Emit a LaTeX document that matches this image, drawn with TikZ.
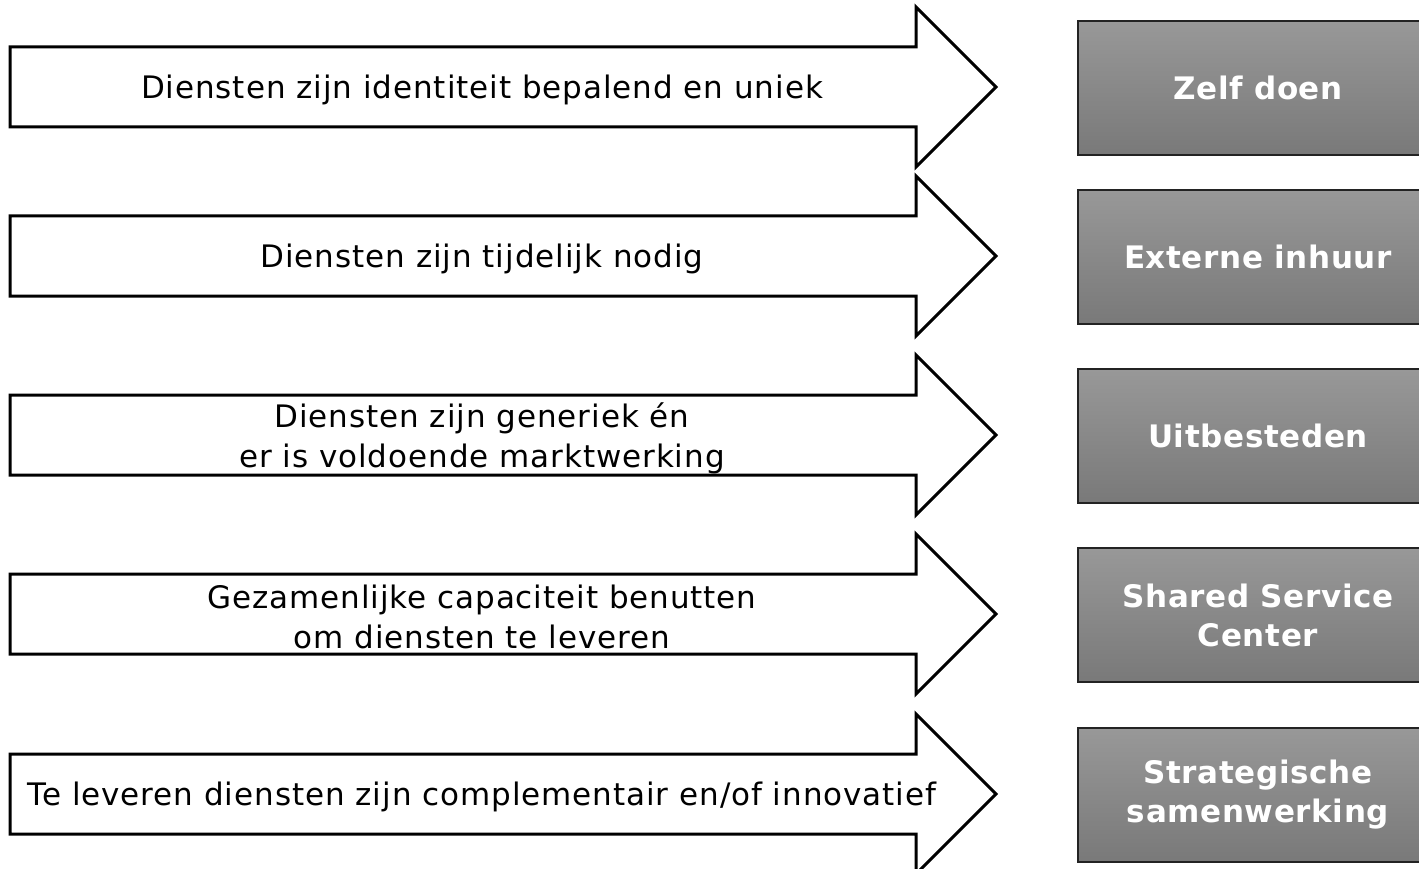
\documentclass[tikz,border=0pt]{standalone}
\usepackage{fontspec}
\setmainfont{DejaVu Sans}
\newfontfamily\pijlfont[LetterSpace=3]{DejaVu Sans}
\newfontfamily\vakfont[LetterSpace=2]{DejaVu Sans}
\definecolor{vaktop}{RGB}{152,152,152}
\definecolor{vakonder}{RGB}{121,121,121}
\definecolor{vakrand}{RGB}{35,35,35}
\tikzset{
  tekst/.style={align=center, inner sep=0pt, font=\pijlfont\fontsize{31}{40}\selectfont},
  vak/.style={draw=vakrand, line width=1.5pt, top color=vaktop, middle color=vakonder,
    bottom color=vakonder, minimum width=360pt, minimum height=134pt,
    align=center, text=white, font=\vakfont\fontsize{31}{39}\selectfont\bfseries},
  pijl/.style={draw=black, line width=3pt, fill=white, line join=miter}
}
\begin{document}
\begin{tikzpicture}[x=1pt,y=-1pt]
  \useasboundingbox (0,0) rectangle (1419,869);
  \clip (0,0) rectangle (1419,869);
  \foreach \y/\t/\b [count=\i] in {
      87/{Diensten zijn identiteit bepalend en uniek}/{Zelf doen},
      256/{Diensten zijn tijdelijk nodig}/{Externe inhuur},
      435/{Diensten zijn generiek én\\er is voldoende marktwerking}/{Uitbesteden},
      614/{Gezamenlijke capaciteit benutten\\om diensten te leveren}/{Shared Service\\Center},
      794/{Te leveren diensten zijn complementair en/of innovatief}/{Strategische\\samenwerking}} {
    % pijl met tekst
    \draw [pijl] (10,\y-40) -- (916,\y-40) -- (916,\y-80) -- (996,\y)
      -- (916,\y+80) -- (916,\y+40) -- (10,\y+40) -- cycle;
    \node [tekst] (tekst\i) at (482,\y+3) {\t};
    % grijs vak rechts
    \node [vak] (vak\i) at (1258,\y+1) {\b};
  }
\end{tikzpicture}
\end{document}
